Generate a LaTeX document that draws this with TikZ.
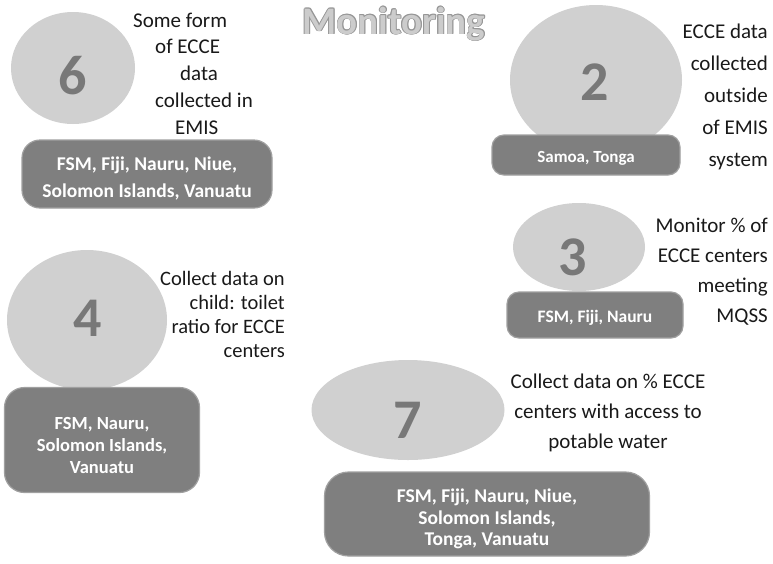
\documentclass[tikz,border=0pt]{standalone}
\usepackage{fontspec}
\setmainfont{Carlito}
\usetikzlibrary{shapes.geometric}
\usetikzlibrary{calc, positioning}

\definecolor{discgray}{RGB}{208,208,208}
\definecolor{boxgray}{RGB}{127,127,127}
\definecolor{boxrim}{RGB}{160,160,160}
\definecolor{numgray}{RGB}{120,120,120}
\definecolor{titlefill}{RGB}{204,204,204}
\definecolor{titlerim}{RGB}{150,150,150}
\definecolor{desctext}{RGB}{25,25,25}

\tikzset{
	disc/.style={ellipse, fill=discgray, inner sep=0pt},
	cbox/.style={rectangle, rounded corners=18pt, fill=boxgray, draw=boxrim, line width=1.2pt, inner sep=0pt},
	boxtext/.style={inner sep=0pt, text=white, align=center},
	numtext/.style={inner sep=0pt, text=numgray, font=\bfseries\fontsize{56}{56}\selectfont},
	desc/.style={inner sep=0pt, text=desctext},
	titletext/.style={inner sep=0pt, anchor=base, font=\bfseries\fontsize{39}{39}\selectfont}
}

\begin{document}
\begin{tikzpicture}[x=1pt, y=-1pt]
	\useasboundingbox (0,0) rectangle (773,563);

	% title
	\foreach \a in {0,45,...,315}
		\node[titletext, text=titlerim] (rim\a) at ($(394,34)+(\a:0.8pt)$) {Monitoring};
	\node[titletext, text=titlefill] (title) at (394,34) {Monitoring};

	% 6
	\node[disc, minimum width=124, minimum height=112] (d6) at (73,68) {};
	\node[numtext] (n6) at (73,76) {6};
	\node[desc, anchor=west, align=left, font=\fontsize{21}{26.7}\selectfont] (t6) at (133,73.5)
		{Some form\\\hspace*{22pt}of ECCE\\\hspace*{47pt}data\\\hspace*{22pt}collected in\\\hspace*{42pt}EMIS};
	\node[cbox, minimum width=250, minimum height=68] (b6) at (147,174) {};
	\node[boxtext, font=\bfseries\fontsize{19.5}{27}\selectfont] (l6) at ([yshift=-4pt]b6.center)
		{FSM, Fiji, Nauru, Niue,\\Solomon Islands, Vanuatu};

	% 2
	\node[disc, minimum width=172, minimum height=150] (d2) at (596,80) {};
	\node[numtext] (n2) at (595,82) {2};
	\node[cbox, minimum width=188, minimum height=40, rounded corners=12pt] (b2) at (586,155) {};
	\node[boxtext, font=\bfseries\fontsize{17}{20}\selectfont] (l2) at ([yshift=-3pt]b2.center) {Samoa, Tonga};
	\node[desc, anchor=east, align=right, font=\fontsize{21}{32}\selectfont] (t2) at (768,96.5)
		{ECCE data\\collected\\outside\\of EMIS\\system};

	% 3
	\node[disc, minimum width=132, minimum height=88] (d3) at (579,247) {};
	\node[numtext] (n3) at (573,257) {3};
	\node[cbox, minimum width=176, minimum height=46, rounded corners=12pt] (b3) at (595,315) {};
	\node[boxtext, font=\bfseries\fontsize{17.5}{20}\selectfont] (l3) at ([yshift=-3pt]b3.center) {FSM, Fiji, Nauru};
	\node[desc, anchor=east, align=right, font=\fontsize{21}{30}\selectfont] (t3) at (768,272)
		{Monitor \% of\\ECCE centers\\meeting\\MQSS};

	% 4
	\node[disc, minimum width=160, minimum height=140] (d4) at (87,320) {};
	\node[numtext] (n4) at (88,318) {4};
	\node[cbox, minimum width=195, minimum height=105, rounded corners=20pt] (b4) at (102,440) {};
	\node[boxtext, font=\bfseries\fontsize{18.5}{22}\selectfont] (l4) at ([yshift=-5pt]b4.center)
		{FSM, Nauru,\\Solomon Islands,\\Vanuatu};
	\node[desc, anchor=east, align=right, font=\fontsize{20.5}{24}\selectfont] (t4) at (285,314)
		{Collect data on\\child: toilet\\ratio for ECCE\\centers};

	% 7
	\node[disc, minimum width=193, minimum height=100] (d7) at (408,410) {};
	\node[numtext] (n7) at (408,420) {7};
	\node[desc, align=center, font=\fontsize{21}{30}\selectfont] (t7) at (608,413)
		{Collect data on \% ECCE\\centers with access to\\potable water};
	\node[cbox, minimum width=325, minimum height=84, rounded corners=24pt] (b7) at (487,514) {};
	\node[boxtext, font=\bfseries\fontsize{19.5}{21.5}\selectfont] (l7) at ([yshift=-5pt]b7.center)
		{FSM, Fiji, Nauru, Niue,\\Solomon Islands,\\Tonga, Vanuatu};
\end{tikzpicture}
\end{document}
